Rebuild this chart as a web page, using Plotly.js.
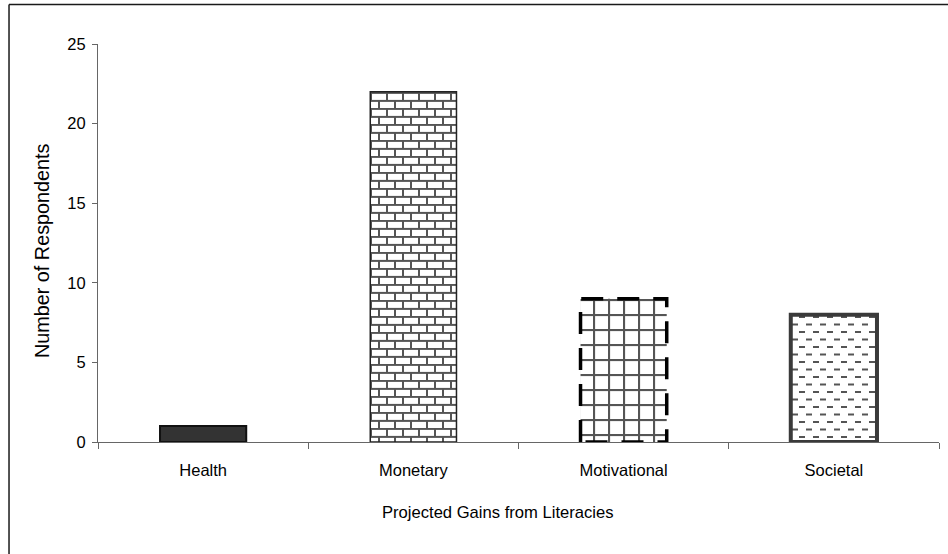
<!DOCTYPE html>
<html>
<head>
<meta charset="utf-8">
<script src="https://cdn.plot.ly/plotly-3.0.1.min.js"></script>
<style>
  html, body { margin: 0; padding: 0; background: #fff; }
  #chart { width: 948px; height: 554px; }
</style>
</head>
<body>
<div id="chart"></div>
<script>
// Survey results: projected gains from literacies
const categories = ['Health', 'Monetary', 'Motivational', 'Societal'];
const respondents = [1, 22, 9, 8];
const xTitle = 'Projected Gains from Literacies';
const yTitle = 'Number of Respondents';

// Fill / outline style per bar (pattern ids are defined below as SVG patterns)
const barFills = ['#333333', 'url(#fill-brick)', 'url(#fill-grid)', 'url(#fill-dash)'];
const barStrokes = ['#111111', '#222222', '#000000', '#3a3a3a'];
const barStrokeWidths = [2, 1.5, 3.5, 4];
const barDash = ['', '', '22,14', ''];

const family = 'Liberation Sans, Arial, sans-serif';
const tickFont = { family: family, size: 16.5, color: '#000' };
const xTitleFont = { family: family, size: 16.6, color: '#000' };
const yTitleFont = { family: family, size: 19.8, color: '#000' };

const trace = {
  type: 'bar',
  x: categories,
  y: respondents,
  marker: {
    color: '#ffffff',
    line: { color: barStrokes, width: barStrokeWidths }
  },
  hoverinfo: 'x+y'
};

const layout = {
  width: 948,
  height: 554,
  margin: { l: 98, r: 9, t: 44, b: 112 },
  paper_bgcolor: '#ffffff',
  plot_bgcolor: '#ffffff',
  font: tickFont,
  showlegend: false,
  bargap: 0.59,
  xaxis: {
    type: 'category',
    showline: true,
    linecolor: '#666',
    linewidth: 1,
    ticks: 'outside',
    tickson: 'boundaries',
    ticklen: 6,
    tickcolor: '#666',
    ticklabelstandoff: 13,
    showgrid: false,
    zeroline: false,
    tickfont: tickFont
  },
  yaxis: {
    range: [0, 25],
    dtick: 5,
    showline: true,
    linecolor: '#666',
    linewidth: 1,
    ticks: 'outside',
    ticklen: 5,
    tickcolor: '#666',
    ticklabelstandoff: 3,
    showgrid: false,
    zeroline: false,
    tickfont: tickFont
  },
  annotations: [
    // axis titles, placed relative to the whole chart frame
    { text: xTitle, xref: 'paper', yref: 'paper', x: 0.4756, y: -0.176,
      xanchor: 'center', yanchor: 'middle', showarrow: false, font: xTitleFont },
    { text: yTitle, xref: 'paper', yref: 'paper', x: -0.0666, y: 0.4824, textangle: -90,
      xanchor: 'center', yanchor: 'middle', showarrow: false, font: yTitleFont }
  ],
  shapes: [
    // outer frame: top and left edges
    { type: 'line', xref: 'paper', yref: 'paper', x0: -0.1058, x1: 1.2, y0: 1.0992, y1: 1.0992,
      line: { color: '#1a1a1a', width: 1.5 } },
    { type: 'line', xref: 'paper', yref: 'paper', x0: -0.1058, x1: -0.1058, y0: 1.0992, y1: -0.3,
      line: { color: '#1a1a1a', width: 1.5 } }
  ]
};

const patternDefs = `
  <pattern id="fill-brick" patternUnits="userSpaceOnUse" width="16" height="16">
    <rect width="16" height="16" fill="#fff"/>
    <line x1="0" y1="0.9" x2="16" y2="0.9" stroke="#555" stroke-width="2"/>
    <line x1="0" y1="8.9" x2="16" y2="8.9" stroke="#555" stroke-width="2"/>
    <line x1="1" y1="0" x2="1" y2="8" stroke="#555" stroke-width="2"/>
    <line x1="9" y1="8" x2="9" y2="16" stroke="#555" stroke-width="2"/>
  </pattern>
  <pattern id="fill-grid" patternUnits="userSpaceOnUse" width="15" height="15">
    <rect width="15" height="15" fill="#fff"/>
    <line x1="0" y1="1" x2="15" y2="1" stroke="#555" stroke-width="2.2"/>
    <line x1="1" y1="0" x2="1" y2="15" stroke="#555" stroke-width="2.2"/>
  </pattern>
  <pattern id="fill-dash" patternUnits="userSpaceOnUse" width="14" height="15">
    <rect width="14" height="15" fill="#fff"/>
    <line x1="1" y1="3" x2="7" y2="3" stroke="#555" stroke-width="2"/>
    <line x1="8" y1="10.5" x2="14" y2="10.5" stroke="#555" stroke-width="2"/>
  </pattern>`;

function applyBarFills(gd) {
  const svg = gd.querySelector('svg.main-svg');
  let defs = svg.querySelector('defs');
  if (!defs) {
    defs = document.createElementNS('http://www.w3.org/2000/svg', 'defs');
    svg.insertBefore(defs, svg.firstChild);
  }
  if (!defs.querySelector('#fill-brick')) {
    const tmp = document.createElementNS('http://www.w3.org/2000/svg', 'g');
    tmp.innerHTML = patternDefs;
    while (tmp.firstChild) defs.appendChild(tmp.firstChild);
  }
  gd.querySelectorAll('.barlayer .point path').forEach(function (p, i) {
    p.style.fill = barFills[i];
    p.style.fillOpacity = 1;
    if (barDash[i]) p.style.strokeDasharray = barDash[i];
  });
}

const gd = document.getElementById('chart');
Plotly.newPlot(gd, [trace], layout, { displayModeBar: false, staticPlot: true }).then(function () {
  applyBarFills(gd);
  gd.on('plotly_afterplot', function () { applyBarFills(gd); });
});
</script>
</body>
</html>
